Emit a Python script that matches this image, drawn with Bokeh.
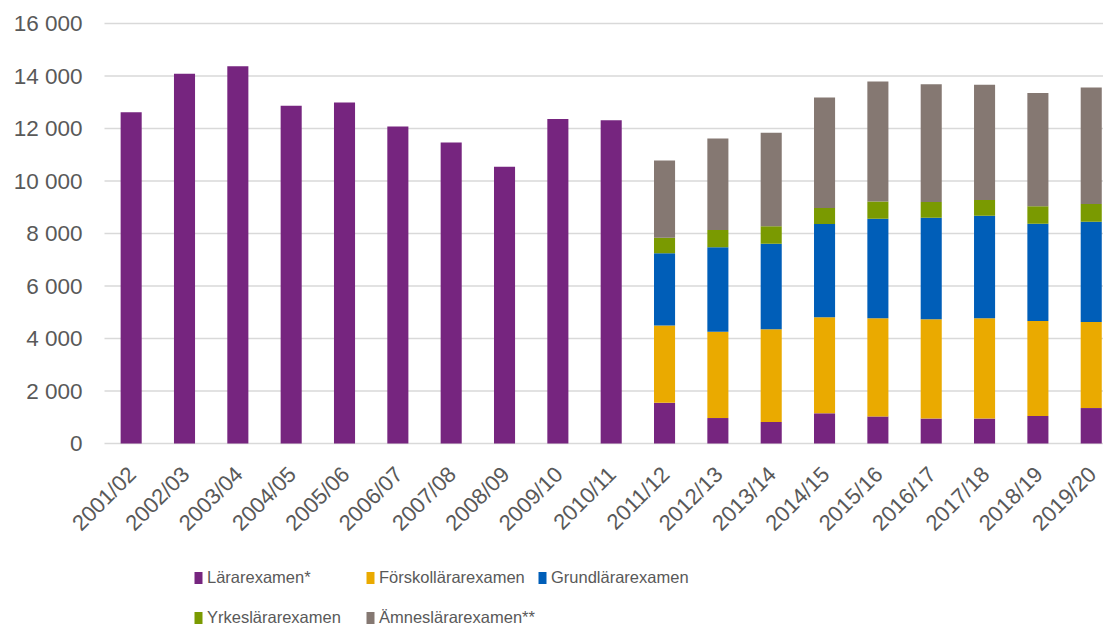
import math
from bokeh.plotting import figure
from bokeh.models import ColumnDataSource, Range1d, Legend, LegendItem
from bokeh.core.properties import value
from bokeh.embed import file_html
from bokeh.resources import INLINE

years = ["2001/02", "2002/03", "2003/04", "2004/05", "2005/06", "2006/07", "2007/08",
         "2008/09", "2009/10", "2010/11", "2011/12", "2012/13", "2013/14", "2014/15",
         "2015/16", "2016/17", "2017/18", "2018/19", "2019/20"]
lararexamen = [12620, 14090, 14370, 12870, 12990, 12080, 11470, 10540, 12360, 12310,
               1550, 970, 820, 1150, 1030, 950, 950, 1050, 1350]
forskollararexamen = [0] * 10 + [2950, 3290, 3530, 3660, 3740, 3780, 3820, 3620, 3280]
grundlararexamen = [0] * 10 + [2750, 3220, 3260, 3550, 3790, 3870, 3910, 3700, 3820]
yrkeslararexamen = [0] * 10 + [590, 650, 670, 610, 660, 600, 600, 670, 670]
amneslararexamen = [0] * 10 + [2940, 3490, 3560, 4210, 4570, 4490, 4390, 4310, 4440]

series = ["lar", "forsk", "grund", "yrkes", "amnes"]
labels = ["Lärarexamen*", "Förskollärarexamen", "Grundlärarexamen",
          "Yrkeslärarexamen", "Ämneslärarexamen**"]
colors = ["#76257F", "#EAAA00", "#005EB8", "#7A9A01", "#857872"]
y_ticks = list(range(0, 16001, 2000))
y_tick_labels = [f"{t:,}".replace(",", " ") for t in y_ticks]
y_max = 16000

# layout (pixels)
W, H = 1103, 627
top = 23             # canvas px of the top gridline
plot_left = 104      # canvas px where the plot area starts
plot_h = 420         # pixels from 0 to y_max
per_px = y_max / plot_h
y_min = -(H - top - plot_h) * per_px
y_end = y_max + top * per_px
x_lo, x_hi = -0.5, 18.23
unit = (W - plot_left) / (x_hi - x_lo)
x_start = x_lo - plot_left / unit

xpos = list(range(len(years)))
source = ColumnDataSource(dict(x=xpos, year=years, zero=[0] * len(years),
                               lar=lararexamen, forsk=forskollararexamen,
                               grund=grundlararexamen, yrkes=yrkeslararexamen,
                               amnes=amneslararexamen))
ysrc = ColumnDataSource(dict(y=y_ticks, label=y_tick_labels,
                             x0=[x_lo] * len(y_ticks), x1=[x_hi + 1] * len(y_ticks)))

p = figure(width=W, height=H, x_range=Range1d(x_start, x_hi), y_range=Range1d(y_min, y_end),
           output_backend="svg", toolbar_location=None,
           x_axis_location=None, y_axis_location=None,
           min_border_left=0, min_border_right=0, min_border_top=0, min_border_bottom=0)
p.outline_line_color = None
p.background_fill_color = "white"
p.border_fill_color = "white"
p.xgrid.grid_line_color = None
p.ygrid.grid_line_color = None

font = "Liberation Sans"
tc = "#595959"

# horizontal gridlines at the value ticks
p.segment(x0="x0", x1="x1", y0="y", y1="y", source=ysrc,
          line_color="#D9D9D9", line_width=1.5)

renderers = p.vbar_stack(series, x="x", width=0.395, color=colors, source=source, line_color=None)

# value labels on the left
p.text(x="x0", y="y", text="label", source=ysrc, x_offset=-22,
       text_align="right", text_baseline="middle",
       text_font=value(font), text_font_size="22.5px", text_color=tc)

# category labels under the bars, rotated 45 degrees
p.text(x="x", y="zero", text="year", source=source, angle=math.pi / 4,
       text_align="right", text_baseline="middle", x_offset=1, y_offset=27,
       text_font=value(font), text_font_size="22px", text_color=tc)

items = [LegendItem(label=l, renderers=[r]) for l, r in zip(labels, renderers)]


def make_legend(its, vy):
    return Legend(items=its, orientation="horizontal", location=(193, vy),
                  padding=0, margin=0, spacing=2, label_width=156,
                  glyph_width=10, glyph_height=15, label_standoff=4,
                  label_text_font=font, label_text_font_size="16.5px",
                  label_text_color=tc, border_line_color=None,
                  background_fill_alpha=0)


p.add_layout(make_legend(items[:3], 40))
p.add_layout(make_legend(items[3:], 0))

open("out.html", "w").write(file_html(p, INLINE))
